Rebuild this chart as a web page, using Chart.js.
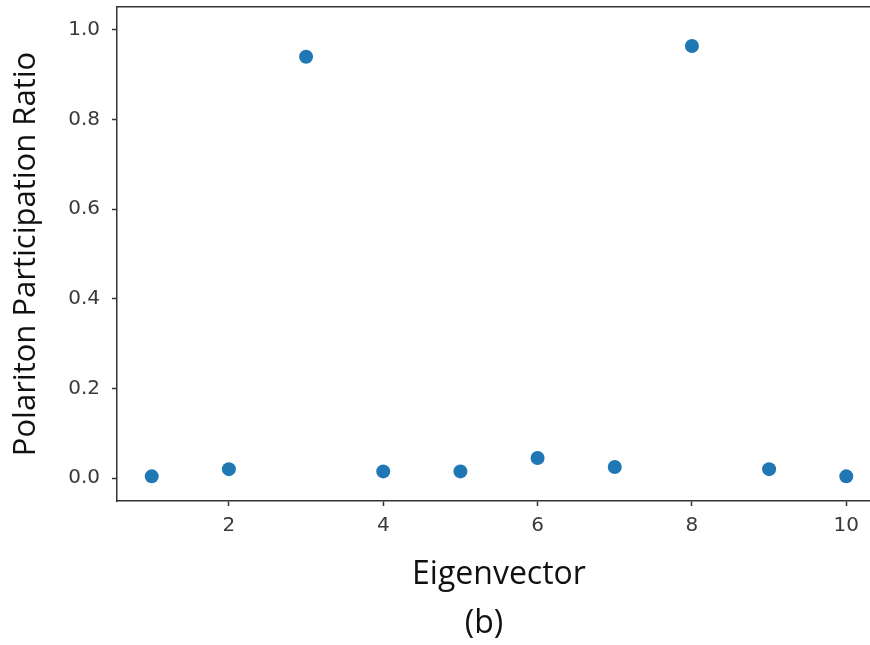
<!DOCTYPE html>
<html>
<head>
<meta charset="utf-8">
<script src="https://cdn.jsdelivr.net/npm/chart.js@4/dist/chart.umd.min.js"></script>
<style>
  html, body { margin: 0; padding: 0; background: #fff; overflow: hidden; }
  canvas { display: block; }
</style>
</head>
<body>
<canvas id="chart" width="888" height="645"></canvas>
<script>
// data
const eigenvectors = [1, 2, 3, 4, 5, 6, 7, 8, 9, 10];
const participation = [0.004, 0.02, 0.94, 0.015, 0.015, 0.045, 0.025, 0.964, 0.02, 0.004];
const xTicks = [2, 4, 6, 8, 10];
const yTicks = [0.0, 0.2, 0.4, 0.6, 0.8, 1.0];

const axisColor = "#333333";
const tickFont = { family: "DejaVu Sans", size: 20 };
const titleFont = { family: "Open Sans", size: 32, weight: "normal" };

const points = eigenvectors.map((x, i) => ({ x: x, y: participation[i] }));

// no extra room for edge labels, the plot box is fixed
const noEdgePadding = (scale) => {
  scale.paddingTop = 0;
  scale.paddingBottom = 0;
  scale.paddingLeft = 0;
  scale.paddingRight = 0;
};

// the "(b)" figure caption under the axis title
const captionPlugin = {
  id: "caption",
  afterDraw(chart) {
    const c = chart.ctx;
    c.save();
    c.font = "normal 32px 'Open Sans'";
    c.fillStyle = "#111";
    c.textAlign = "center";
    c.textBaseline = "middle";
    c.fillText("(b)", 484, 624);
    c.restore();
  },
};

const ctx = document.getElementById("chart").getContext("2d");
new Chart(ctx, {
  type: "scatter",
  data: {
    datasets: [
      {
        data: points,
        backgroundColor: "#1f77b4",
        borderWidth: 0,
        pointRadius: 7,
        pointHoverRadius: 7,
      },
    ],
  },
  plugins: [captionPlugin],
  options: {
    responsive: false,
    animation: false,
    layout: { padding: { top: 7, left: 0, right: 0, bottom: 0 } },
    plugins: {
      legend: { display: false },
      tooltip: { enabled: false },
    },
    scales: {
      x: {
        type: "linear",
        min: 0.55,
        max: 10.45,
        afterBuildTicks: (scale) => {
          scale.ticks = xTicks.map((v) => ({ value: v }));
        },
        afterFit: (scale) => {
          scale.height = 144;
          noEdgePadding(scale);
        },
        grid: {
          display: true,
          drawOnChartArea: false,
          drawTicks: true,
          tickLength: 5,
          tickWidth: 1.5,
          tickColor: axisColor,
        },
        border: { display: true, color: axisColor, width: 1.5 },
        ticks: {
          color: "#3a3a3a",
          font: tickFont,
          padding: 8,
          maxRotation: 0,
          callback: (v) => String(v),
        },
        title: {
          display: true,
          text: "Eigenvector",
          color: "#111",
          font: titleFont,
          padding: 51,
        },
      },
      xTop: {
        type: "linear",
        position: "top",
        min: 0.55,
        max: 10.45,
        afterFit: (scale) => {
          scale.height = 0;
          noEdgePadding(scale);
        },
        grid: { display: false, drawTicks: false },
        border: { display: true, color: axisColor, width: 1.5 },
        ticks: { display: false },
      },
      y: {
        type: "linear",
        min: -0.051,
        max: 1.051,
        afterBuildTicks: (scale) => {
          scale.ticks = yTicks.map((v) => ({ value: v }));
        },
        afterFit: (scale) => {
          scale.width = 117;
          noEdgePadding(scale);
        },
        grid: {
          display: true,
          drawOnChartArea: false,
          drawTicks: true,
          tickLength: 5,
          tickWidth: 1.5,
          tickColor: axisColor,
        },
        border: { display: true, color: axisColor, width: 1.5 },
        ticks: {
          color: "#3a3a3a",
          font: tickFont,
          padding: 12,
          callback: (v) => Number(v).toFixed(1),
        },
        title: {
          display: true,
          text: "Polariton Participation Ratio",
          color: "#111",
          font: { family: "Open Sans", size: 31, weight: "normal" },
          padding: 8,
        },
      },
    },
  },
});
</script>
</body>
</html>
